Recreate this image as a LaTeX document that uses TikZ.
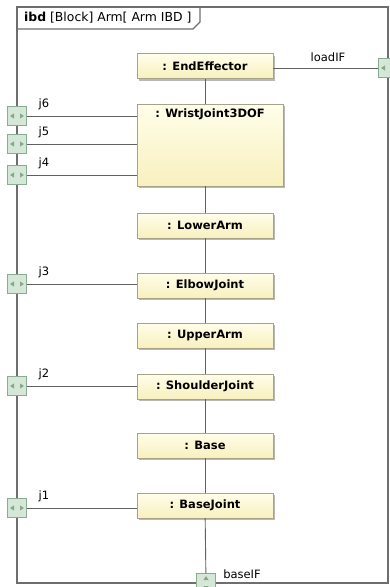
\documentclass[tikz,border=0pt]{standalone}
\usepackage{fontspec}
\setmainfont{DejaVu Sans}
\usetikzlibrary{shadows,positioning}
\definecolor{blocktop}{HTML}{FFFEEA}
\definecolor{blockbot}{HTML}{F8F0BE}
\definecolor{blockline}{HTML}{A6A38A}
\definecolor{portfill}{HTML}{D5E8D7}
\definecolor{portline}{HTML}{89AC92}
\definecolor{portglyph}{HTML}{86A88E}
\definecolor{frameline}{HTML}{6E6E6E}
\begin{document}
\begin{tikzpicture}[x=1pt, y=-1pt,
    block/.style={rectangle, draw=blockline, top color=blocktop, bottom color=blockbot, align=center, minimum width=136pt, minimum height=25pt, inner sep=2pt, font=\fontsize{11.5}{13}\selectfont\bfseries, drop shadow={shadow xshift=2pt, shadow yshift=-2pt, fill=black!28, opacity=1}},
    blocklabel/.style={inner sep=2pt, font=\fontsize{11.5}{13}\selectfont\bfseries},
    hport/.style={rectangle, draw=portline, fill=portfill, minimum size=19pt, inner sep=0pt,
        path picture={
            \fill[portglyph] ([xshift=-7pt]path picture bounding box.center) -- ++(4pt,2.6pt) -- ++(0,-5.2pt) -- cycle;
            \fill[portglyph] ([xshift=7pt]path picture bounding box.center) -- ++(-4pt,2.6pt) -- ++(0,-5.2pt) -- cycle;}},
    vport/.style={rectangle, draw=portline, fill=portfill, minimum size=19pt, inner sep=0pt,
        path picture={
            \fill[portglyph] ([yshift=7pt]path picture bounding box.center) -- ++(2.6pt,-4pt) -- ++(-5.2pt,0) -- cycle;
            \fill[portglyph] ([yshift=-7pt]path picture bounding box.center) -- ++(2.6pt,4pt) -- ++(-5.2pt,0) -- cycle;}},
    portlabel/.style={inner sep=1pt, font=\fontsize{11.5}{13}\selectfont},
    frame/.style={draw=frameline, line width=1.2pt},
    conn/.style={draw=black!62, line width=0.9pt}
]
\useasboundingbox (0,0) rectangle (390,587);

% diagram frame and its header
\draw[frame, fill=white] (17,7) rectangle (388,583);
\draw[frame] (17,29) -- (193,29) -- (200,22) -- (200,7);
\node[anchor=west, inner sep=1pt, font=\fontsize{12.4}{14}\selectfont] (title) at (23,18) {\textbf{ibd} [Block] Arm[ Arm IBD ]};

% parts
\node[block] (ee) at (205,66) {: EndEffector};
\node[block, minimum width=146pt, minimum height=82pt] (wrist) at (210,145) {};
\node[blocklabel, below=3pt of wrist.north] (wristlbl) {: WristJoint3DOF};
\node[block] (lower) at (205,225.5) {: LowerArm};
\node[block] (elbow) at (205,285.5) {: ElbowJoint};
\node[block] (upper) at (205,335.5) {: UpperArm};
\node[block] (shoulder) at (205,386.5) {: ShoulderJoint};
\node[block] (base) at (205,445.5) {: Base};
\node[block] (basejoint) at (205,505.5) {: BaseJoint};

% ports on the frame
\node[hport] (pj6) at (17,116) {};
\node[hport] (pj5) at (17,144) {};
\node[hport] (pj4) at (17,175) {};
\node[hport] (pj3) at (17,284) {};
\node[hport] (pj2) at (17,386) {};
\node[hport] (pj1) at (17,508) {};
\node[hport] (pload) at (388,68) {};
\node[vport] (pbase) at (206,583) {};

\node[portlabel] (lj6) at (44,104) {j6};
\node[portlabel] (lj5) at (44,132) {j5};
\node[portlabel] (lj4) at (44,163) {j4};
\node[portlabel] (lj3) at (44,272) {j3};
\node[portlabel] (lj2) at (44,374) {j2};
\node[portlabel] (lj1) at (44,496) {j1};
\node[portlabel] (lload) at (328,57) {loadIF};
\node[portlabel] (lbase) at (242,574) {baseIF};

% connectors
\draw[conn] (pj6) -- (pj6 -| wrist.west);
\draw[conn] (pj5) -- (pj5 -| wrist.west);
\draw[conn] (pj4) -- (pj4 -| wrist.west);
\draw[conn] (pj3) -- (pj3 -| elbow.west);
\draw[conn] (pj2) -- (pj2 -| shoulder.west);
\draw[conn] (pj1) -- (pj1 -| basejoint.west);
\draw[conn] (pload) -- (pload -| ee.east);
\draw[conn] (ee.south) -- (ee.south |- wrist.north);
\draw[conn] (lower.north |- wrist.south) -- (lower.north);
\draw[conn] (lower) -- (elbow);
\draw[conn] (elbow) -- (upper);
\draw[conn] (upper) -- (shoulder);
\draw[conn] (shoulder) -- (base);
\draw[conn] (base) -- (basejoint);
\draw[conn] (basejoint) -- (pbase);
\end{tikzpicture}
\end{document}
